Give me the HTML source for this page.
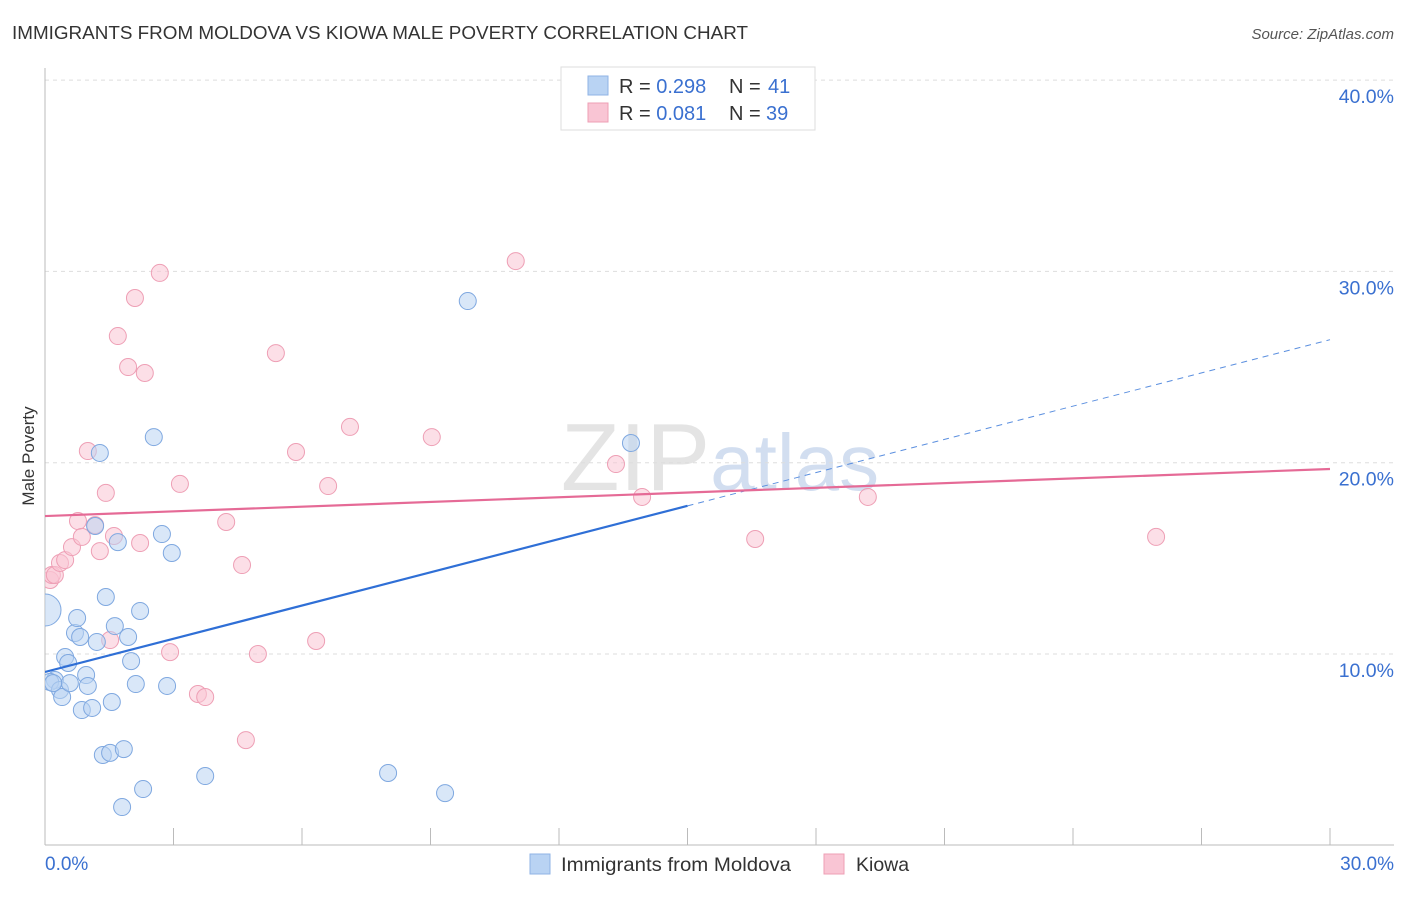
<!DOCTYPE html>
<html><head><meta charset="utf-8"><style>
body{margin:0;background:#fff;font-family:"Liberation Sans",sans-serif;}
svg text{font-family:"Liberation Sans",sans-serif;}
</style></head><body>
<svg width="1406" height="892" viewBox="0 0 1406 892" xmlns="http://www.w3.org/2000/svg">
<defs><clipPath id="plotclip"><rect x="45" y="60" width="1360" height="786"/></clipPath></defs>
<text x="12" y="39" font-size="18" fill="#333" textLength="736" lengthAdjust="spacingAndGlyphs">IMMIGRANTS FROM MOLDOVA VS KIOWA MALE POVERTY CORRELATION CHART</text>
<text x="1394" y="39" font-size="15" fill="#555" font-style="italic" text-anchor="end">Source: ZipAtlas.com</text>
<text x="720" y="490" font-size="96" fill="#e4e4e4" text-anchor="middle" font-family="Liberation Serif">ZIP<tspan fill="#d2def0" font-family="Liberation Sans" font-size="80">atlas</tspan></text>
<g id="grid"></g>
<g id="axes"></g>
<g id="marks" clip-path="url(#plotclip)"></g>
<text x="34" y="456" font-size="17" fill="#333" text-anchor="middle" transform="rotate(-90 34 456)">Male Poverty</text>
<text x="45" y="870" font-size="19" fill="#3a70d0">0.0%</text>
<text x="1394" y="870" font-size="19" fill="#3a70d0" text-anchor="end">30.0%</text>
<g>
<rect x="561" y="67" width="254" height="63" fill="#fff" stroke="#ddd"/>
<rect x="588" y="76" width="20" height="19" fill="#b9d3f3" stroke="#8fb3e6"/>
<rect x="588" y="103" width="20" height="19" fill="#f9c5d4" stroke="#ee9fb5"/>
<text x="619" y="93" font-size="20" fill="#333">R = <tspan fill="#3a70d0">0.298</tspan><tspan x="729">N = </tspan><tspan fill="#3a70d0" x="768">41</tspan></text>
<text x="619" y="120" font-size="20" fill="#333">R = <tspan fill="#3a70d0">0.081</tspan><tspan x="729">N = </tspan><tspan fill="#3a70d0" x="766">39</tspan></text>
</g>
<g>
<rect x="530" y="854" width="20" height="20" fill="#b9d3f3" stroke="#8fb3e6"/>
<text x="561" y="871" font-size="19.5" fill="#333" textLength="230" lengthAdjust="spacingAndGlyphs">Immigrants from Moldova</text>
<rect x="824" y="854" width="20" height="20" fill="#f9c5d4" stroke="#ee9fb5"/>
<text x="856" y="871" font-size="19.5" fill="#333">Kiowa</text>
</g>
</svg>
<script>
const yTicks=[10,20,30,40];
const yTickLabels=["10.0%","20.0%","30.0%","40.0%"];
const xTicks=[0,3,6,9,12,15,18,21,24,27,30];
const blueX=[0,0.23,0.12,0.35,0.40,0.47,0.54,0.58,0.70,0.75,0.82,0.86,0.96,1.00,1.10,1.17,1.21,1.28,1.35,1.42,1.52,1.56,1.63,1.70,1.80,1.84,1.94,2.01,2.12,2.22,2.29,2.54,2.73,2.85,2.96,3.74,8.01,9.34,9.87,13.68,0.19];
const blueY=[12.30,8.64,8.54,8.12,7.75,9.84,9.53,8.48,11.10,11.88,10.89,7.07,8.90,8.33,7.18,16.69,10.63,20.51,4.72,12.98,4.83,7.49,11.46,15.85,2.00,5.03,10.89,9.63,8.43,12.25,2.94,21.34,16.27,8.33,15.28,3.62,3.78,2.73,28.45,21.03,8.48];
const pinkX=[0.12,0.16,0.23,0.35,0.47,0.63,0.77,0.86,1.00,1.17,1.28,1.42,1.52,1.61,1.70,1.94,2.10,2.22,2.33,2.68,2.92,3.15,3.57,3.74,4.23,4.60,4.69,4.97,5.39,5.86,6.33,6.61,7.12,9.03,10.99,13.33,13.94,16.58,19.21,25.94];
const pinkY=[13.87,14.13,14.13,14.76,14.91,15.59,16.95,16.12,20.61,16.74,15.38,18.42,10.73,16.17,26.62,25.00,28.61,15.80,24.69,29.92,10.10,18.89,7.91,7.75,16.90,14.65,5.50,10.00,25.73,20.56,10.68,18.78,21.87,21.34,30.54,19.93,18.21,16.01,18.21,16.12];
const blueTrend=[9.06,0.579];
const pinkTrend=[17.21,0.082];
const NS="http://www.w3.org/2000/svg";
const X=v=>45+v*1285/30;
const Y=v=>654-(v-10)*19.13;
function mk(tag,attrs,parent){const e=document.createElementNS(NS,tag);for(const k in attrs)e.setAttribute(k,attrs[k]);document.getElementById(parent).appendChild(e);return e;}
yTicks.forEach((t,i)=>{
 const l=mk('line',{x1:45,x2:1394,y1:Y(t),y2:Y(t),stroke:'#ddd','stroke-dasharray':'4 4'},'grid');
 
 
 const tx=mk('text',{x:1394,y:Y(t)+23,'font-size':19.5,fill:'#3a70d0','text-anchor':'end'},'grid');
 tx.textContent=yTickLabels[i];
 
 
});
const ax=mk('line',{x1:45,x2:1394,y1:845,y2:845,stroke:'#bbb'},'axes');


const ay=mk('line',{x1:45,x2:45,y1:68,y2:845,stroke:'#bbb'},'axes');


xTicks.forEach(t=>{
 const l=mk('line',{x1:X(t),x2:X(t),y1:828,y2:845,stroke:'#bbb'},'axes');
 
 
});
function dots(xs,ys,fill,stroke,name){
 xs.forEach((x,i)=>{
  const r=(i===0&&name==='moldova-point')?16:8.5;
  const c=mk('circle',{cx:X(x),cy:Y(ys[i]),r:r,fill:fill,'fill-opacity':0.55,stroke:stroke,'stroke-width':1},'marks');
  
  
 });
}
dots(pinkX,pinkY,'#f9c5d4','#ee9fb5','kiowa-point');
dots(blueX,blueY,'#b9d3f3','#7fa8e0','moldova-point');
const bs=mk('line',{x1:X(0),y1:Y(blueTrend[0]),x2:X(15),y2:Y(blueTrend[0]+blueTrend[1]*15),stroke:'#2f6fd6','stroke-width':2.2},'marks');


const bd=mk('line',{x1:X(15),y1:Y(blueTrend[0]+blueTrend[1]*15),x2:X(30),y2:Y(blueTrend[0]+blueTrend[1]*30),stroke:'#5b8fdf','stroke-width':1,'stroke-dasharray':'6 5'},'marks');


const pl=mk('line',{x1:X(0),y1:Y(pinkTrend[0]),x2:X(30),y2:Y(pinkTrend[0]+pinkTrend[1]*30),stroke:'#e56a96','stroke-width':2.2},'marks');


</script>
</body></html>
